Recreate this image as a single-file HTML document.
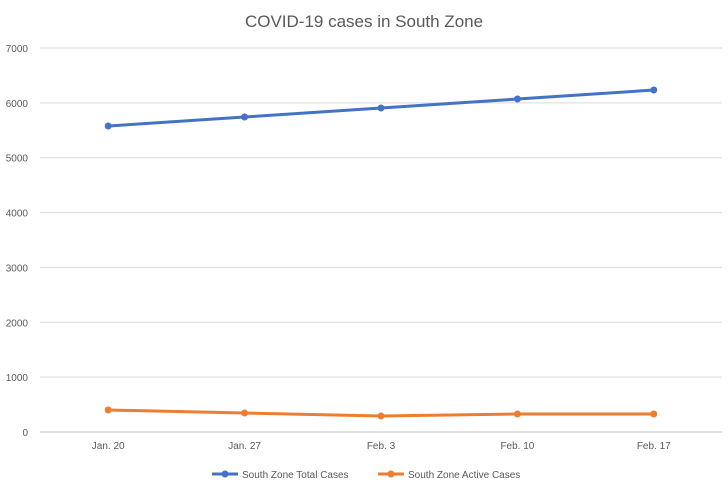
<!DOCTYPE html>
<html><head><meta charset="utf-8"><style>
body{margin:0;background:#fff;font-family:"Liberation Sans",sans-serif}
svg text{font-family:"Liberation Sans",sans-serif}
</style></head><body>
<svg id="chart" width="728" height="490">
<text x="364" y="27" text-anchor="middle" font-size="17" fill="#595959">COVID-19 cases in South Zone</text>
<g id="grid"></g><g id="xl"></g><g id="series"></g>
<g>
<g><line x1="212" y1="474" x2="238" y2="474" stroke="#4472C4" stroke-width="3"/><circle cx="225" cy="474" r="3.5" fill="#4472C4"/><text x="242" y="478" font-size="10" fill="#595959">South Zone Total Cases</text></g>
<g><line x1="378" y1="474" x2="404" y2="474" stroke="#ED7D31" stroke-width="3"/><circle cx="391" cy="474" r="3.5" fill="#ED7D31"/><text x="408" y="478" font-size="10" fill="#595959">South Zone Active Cases</text></g>
</g>
</svg>
<script>
const categories=["Jan. 20","Jan. 27","Feb. 3","Feb. 10","Feb. 17"];
const totalCases=[5578,5742,5906,6070,6234];
const activeCases=[401,346,292,328,328];
const yTicks=[0,1000,2000,3000,4000,5000,6000,7000];
const L=40,R=722,T=48,B=432,NS="http://www.w3.org/2000/svg";
const y=v=>B-(v/7000)*(B-T);
const x=i=>L+(i+0.5)*(R-L)/categories.length;
function mk(t,a,p){const e=document.createElementNS(NS,t);for(const k in a)e.setAttribute(k,a[k]);p.appendChild(e);return e;}
const g=document.getElementById('grid');
yTicks.forEach(v=>{
const l=mk('line',{x1:L,x2:R,y1:y(v),y2:y(v),stroke:v===0?'#bfbfbf':'#d9d9d9','stroke-width':1},g);


const t=mk('text',{x:L-12,y:y(v)+4,'text-anchor':'end','font-size':10,fill:'#595959'},g);t.textContent=v;


});
const xl=document.getElementById('xl');
categories.forEach((c,i)=>{const t=mk('text',{x:x(i),y:449,'text-anchor':'middle','font-size':10,fill:'#595959'},xl);t.textContent=c;

});
const s=document.getElementById('series');
[[totalCases,'#4472C4','total'],[activeCases,'#ED7D31','active']].forEach(([d,c,n])=>{
const p=mk('polyline',{points:d.map((v,i)=>x(i)+','+y(v)).join(' '),fill:'none',stroke:c,'stroke-width':3,'stroke-linejoin':'round'},s);


d.forEach((v,i)=>{const m=mk('circle',{cx:x(i),cy:y(v),r:3.5,fill:c},s);

});
});
</script>
</body></html>
